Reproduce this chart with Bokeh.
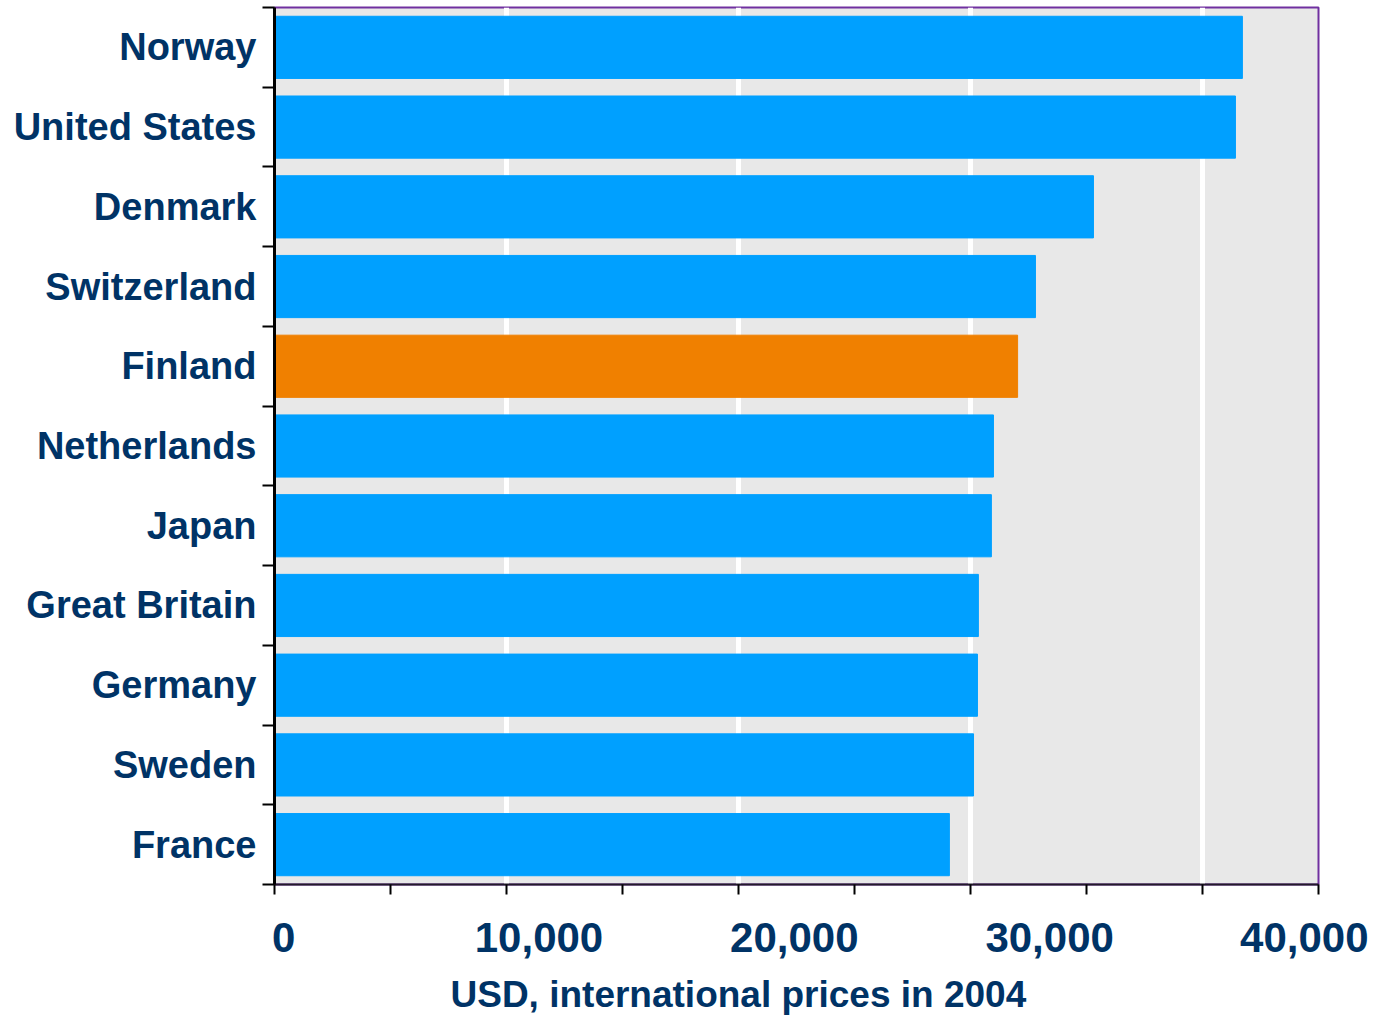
from bokeh.plotting import figure
from bokeh.models import (Range1d, LinearAxis, FixedTicker, NumeralTickFormatter,
                          CustomJSTickFormatter, CustomLabelingPolicy, Title,
                          ColumnDataSource)
from bokeh.embed import file_html
from bokeh.resources import INLINE

# ---- data ----
countries = ["Norway", "United States", "Denmark", "Switzerland", "Finland",
             "Netherlands", "Japan", "Great Britain", "Germany", "Sweden", "France"]
gdp = [41720, 41420, 35300, 32800, 32030, 30990, 30900, 30340, 30300, 30130, 29090]
highlight = "Finland"
tick_values = [0, 5000, 10000, 15000, 20000, 25000, 30000, 35000, 40000, 45000]
grid_values = [10000, 20000, 30000, 40000]
label_values = [0, 10000, 20000, 30000, 40000]
x_title = "USD, international prices in 2004"

BLUE = "#00A0FF"
ORANGE = "#F08000"
NAVY = "#003366"
FONT = "Liberation Sans"

n = len(countries)
src = ColumnDataSource(dict(
    y=[i + 0.5 for i in range(n)],
    right=gdp,
    color=[ORANGE if c == highlight else BLUE for c in countries],
))

p = figure(frame_width=1044, frame_height=877,
           x_range=Range1d(0, 45000), y_range=Range1d(n, 0),
           output_backend="svg", toolbar_location=None,
           min_border_left=274, min_border_top=7, min_border_right=50,
           min_border_bottom=0)
p.background_fill_color = "#E8E8E8"
p.border_fill_color = "white"
p.outline_line_color = "#7030A0"
p.outline_line_width = 2

p.hbar(y="y", left=0, right="right", height=0.78, color="color", source=src)

# grid
p.ygrid.visible = False
p.xgrid.ticker = FixedTicker(ticks=grid_values)
p.xgrid.grid_line_color = "white"
p.xgrid.grid_line_width = 5

# y axis (categories at band centres, tick marks at band borders)
ya = p.yaxis[0]
ya.ticker = FixedTicker(ticks=[i + 0.5 for i in range(n)],
                        minor_ticks=list(range(n + 1)))
ya.formatter = CustomJSTickFormatter(args=dict(names=countries),
                                     code="return names[Math.floor(tick)];")
ya.major_tick_line_color = None
ya.major_tick_out = 0
ya.major_tick_in = 0
ya.minor_tick_line_color = "black"
ya.minor_tick_line_width = 2
ya.minor_tick_out = 12
ya.minor_tick_in = 0
ya.axis_line_color = "black"
ya.axis_line_width = 3
ya.major_label_standoff = 6
ya.major_label_text_font = FONT
ya.major_label_text_font_style = "bold"
ya.major_label_text_font_size = "38px"
ya.major_label_text_color = NAVY

# x axis with tick marks only (its labels are filtered out)
xa = p.xaxis[0]
xa.ticker = FixedTicker(ticks=tick_values, minor_ticks=[])
xa.major_label_policy = CustomLabelingPolicy(
    code="for (const i of indices) { indices.unset(i) } return indices;")
xa.major_label_text_font_size = "1px"
xa.major_label_standoff = 0
xa.major_tick_line_color = "black"
xa.major_tick_line_width = 2
xa.major_tick_out = 10
xa.major_tick_in = 0
xa.minor_tick_line_color = None
xa.axis_line_color = "#231a2a"
xa.axis_line_width = 2

# label axis, placed as the labels appear in the reference
p.extra_x_ranges = {"lab": Range1d(-360, 40530)}
la = LinearAxis(x_range_name="lab", ticker=FixedTicker(ticks=label_values, minor_ticks=[]),
                formatter=NumeralTickFormatter(format="0,0"))
la.axis_line_color = None
la.major_tick_line_color = None
la.minor_tick_line_color = None
la.major_tick_out = 0
la.major_tick_in = 0
la.major_label_standoff = 24
la.major_label_text_font = FONT
la.major_label_text_font_style = "bold"
la.major_label_text_font_size = "42px"
la.major_label_text_color = NAVY
p.add_layout(la, "below")

# axis title, offset left of centre as in the reference
t = Title(text=x_title, align="left", offset=176, text_font=FONT,
          text_font_style="bold", text_font_size="37px", text_color=NAVY,
          standoff=34)
p.add_layout(t, "below")

open("out.html", "w").write(file_html(p, INLINE))
